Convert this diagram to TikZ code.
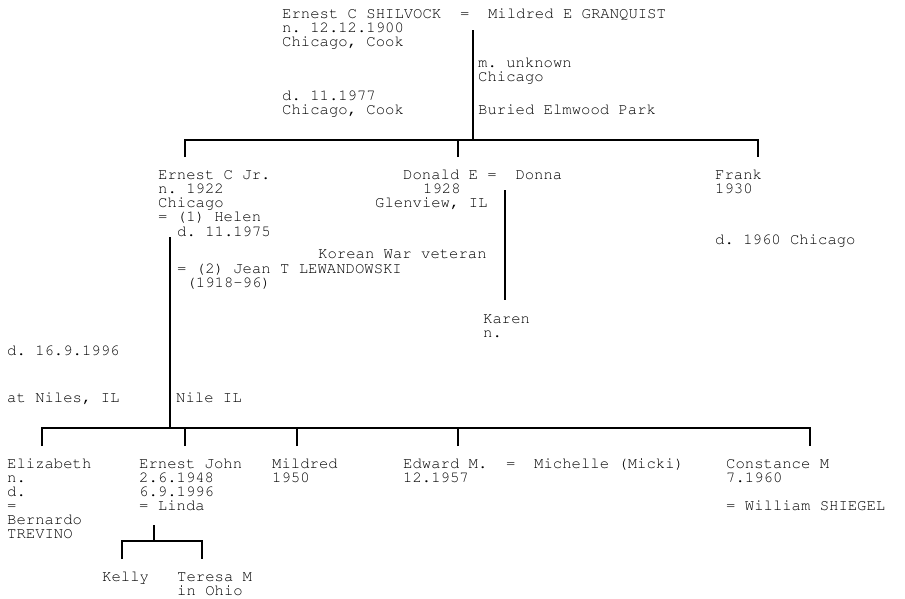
\documentclass[tikz,border=0pt]{standalone}
\usepackage{fontspec}
\usetikzlibrary{positioning}
\newcommand\treefont{\fontencoding{T1}\fontfamily{pcr}\fontsize{15.6}{14}\selectfont\frenchspacing\lineskiplimit=-20pt\relax}

\begin{document}
\begin{tikzpicture}[
    x=1pt, y=-1pt,
    % --- STYLES ---
    % anchor is the baseline of the last line
    person/.style={
        anchor=base west, inner sep=0pt, align=left,
        font=\treefont
    },
    line/.style={line width=2.8pt, line join=miter}
]
\useasboundingbox (0,0) rectangle (905,598);

% ===== 1. PARENTS =====
\node[person] (ernest) at (282,46) {Ernest C SHILVOCK~~=~~Mildred E GRANQUIST\\n. 12.12.1900\\Chicago, Cook};
\node[person] (marr0) at (478,81) {m. unknown\\Chicago};
\node[person] (death0) at (282,114) {d. 11.1977\\Chicago, Cook};
\node[person] (buried) at (478,114) {Buried Elmwood Park};

% ===== 2. CHILDREN =====
\node[person] (ernestjr) at (158,221) {Ernest C Jr.\\n. 1922\\Chicago\\= (1) Helen};
\node[person] (helen) at (177,236) {d. 11.1975};
\node[person] (korea) at (318,258) {Korean War veteran};
\node[person] (jean) at (177,287) {= (2) Jean T LEWANDOWSKI\\~(1918-96)};

\node[person] (donald) at (403,179) {Donald E =~~Donna};
\node[person] (donald2) at (423,193) {1928};
\node[person] (donald3) at (375,207) {Glenview, IL};
\node[person] (karen) at (483,337) {Karen\\n.};

\node[person] (frank) at (715,193) {Frank\\1930};
\node[person] (frank2) at (715,244) {d. 1960 Chicago};

\node[person] (death1) at (7,355) {d. 16.9.1996};
\node[person] (niles) at (7,402) {at Niles, IL};
\node[person] (nile) at (176,402) {Nile IL};

% ===== 3. GRANDCHILDREN =====
\node[person] (eliz) at (7,538) {Elizabeth\\n.\\d.\\=\\Bernardo\\TREVINO};
\node[person] (ejohn) at (139,510) {Ernest John\\2.6.1948\\6.9.1996\\= Linda};
\node[person] (mildred) at (272,482) {Mildred\\1950};
\node[person] (edward) at (403,482) {Edward M.~~=~~Michelle (Micki)\\12.1957};
\node[person] (const) at (726,482) {Constance M\\7.1960};
\node[person] (william) at (726,510) {= William SHIEGEL};

\node[person] (kelly) at (102,581) {Kelly};
\node[person] (teresa) at (177,595) {Teresa M\\in Ohio};

% ===== 4. CONNECTIONS =====
% Ernest = Mildred
\coordinate (m0) at (473,30);
\coordinate (bar0) at (473,140);
\coordinate (c1) at (185,157);
\coordinate (c2) at (458,157);
\coordinate (c3) at (758,157);
\draw[line] (m0) -- (bar0);
\draw[line] (c1) -- (c1 |- bar0) -- (c3 |- bar0) -- (c3);
\draw[line] (c2) -- (c2 |- bar0);

% Donald = Donna
\coordinate (m1) at (505,190);
\coordinate (k1) at (505,300);
\draw[line] (m1) -- (k1);

% Ernest Jr = Jean
\coordinate (m2) at (170,237);
\coordinate (bar2) at (170,428);
\coordinate (g1) at (42,446);
\coordinate (g2) at (185,446);
\coordinate (g3) at (297,446);
\coordinate (g4) at (458,446);
\coordinate (g5) at (810,446);
\draw[line] (m2) -- (bar2);
\draw[line] (g1) -- (g1 |- bar2) -- (g5 |- bar2) -- (g5);
\foreach \g in {g2,g3,g4}
    \draw[line] (\g) -- (\g |- bar2);

% Ernest John = Linda
\coordinate (m3) at (154,525);
\coordinate (bar3) at (154,541);
\coordinate (k2) at (122,559);
\coordinate (k3) at (202,559);
\draw[line] (m3) -- (bar3);
\draw[line] (k2) -- (k2 |- bar3) -- (k3 |- bar3) -- (k3);

\end{tikzpicture}
\end{document}
